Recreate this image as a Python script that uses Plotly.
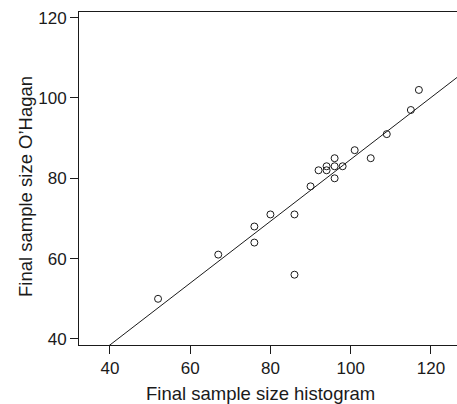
import plotly.graph_objects as go

# Data
hist_size = [52, 67, 76, 76, 80, 86, 86, 90, 92, 94, 94, 96, 96, 96, 98, 101, 105, 109, 115, 117]
ohagan_size = [50, 61, 64, 68, 71, 71, 56, 78, 82, 82, 83, 80, 83, 85, 83, 87, 85, 91, 97, 102]

# Fitted line (intercept, slope)
fit_intercept = 7.7
fit_slope = 0.77
line_x = [30, 130]
line_y = [fit_intercept + fit_slope * v for v in line_x]

tick_vals = [40, 60, 80, 100, 120]
tick_text = ["40", "60", "80", "100", "120"]

x_title = "Final sample size histogram"
y_title = "Final sample size O\u2019Hagan"

ink = "#1a1a1a"
font_family = "Liberation Sans, Arial, sans-serif"

fig = go.Figure()
fig.add_trace(go.Scatter(
    x=line_x, y=line_y, mode="lines",
    line=dict(color=ink, width=1), hoverinfo="skip", showlegend=False,
))
fig.add_trace(go.Scatter(
    x=hist_size, y=ohagan_size, mode="markers",
    marker=dict(symbol="circle-open", size=7, color=ink, line=dict(width=1, color=ink)),
    showlegend=False,
))

fig.update_layout(
    width=457, height=404,
    margin=dict(l=79, r=0, t=12, b=59),
    paper_bgcolor="white", plot_bgcolor="white",
    font=dict(family=font_family, size=17, color=ink),
    xaxis=dict(
        range=[32.3, 126.5], tickvals=tick_vals, ticktext=tick_text,
        showgrid=False, zeroline=False, automargin=False,
        showline=True, linecolor=ink, linewidth=1, mirror=True,
        ticks="outside", ticklen=8, tickcolor=ink, tickwidth=1,
    ),
    yaxis=dict(
        range=[38.5, 121.4], tickvals=tick_vals, ticktext=tick_text,
        showgrid=False, zeroline=False, automargin=False,
        showline=True, linecolor=ink, linewidth=1, mirror=False,
        ticks="outside", ticklen=8, tickcolor=ink, tickwidth=1,
    ),
    annotations=[
        dict(text=x_title, xref="paper", yref="paper", x=(260 - 79) / 378, y=-(393 - 345) / 333,
             xanchor="center", yanchor="middle", showarrow=False, font=dict(size=18.5, color=ink)),
        dict(text=y_title, xref="paper", yref="paper", x=-(79 - 25) / 378, y=(345 - 187) / 333,
             xanchor="center", yanchor="middle", textangle=-90, showarrow=False,
             font=dict(size=18.5, color=ink)),
    ],
)

fig.write_html(
    "out.html",
    config={"displayModeBar": False},
    post_script="document.body.style.margin='0';document.body.style.overflow='hidden';",
)
